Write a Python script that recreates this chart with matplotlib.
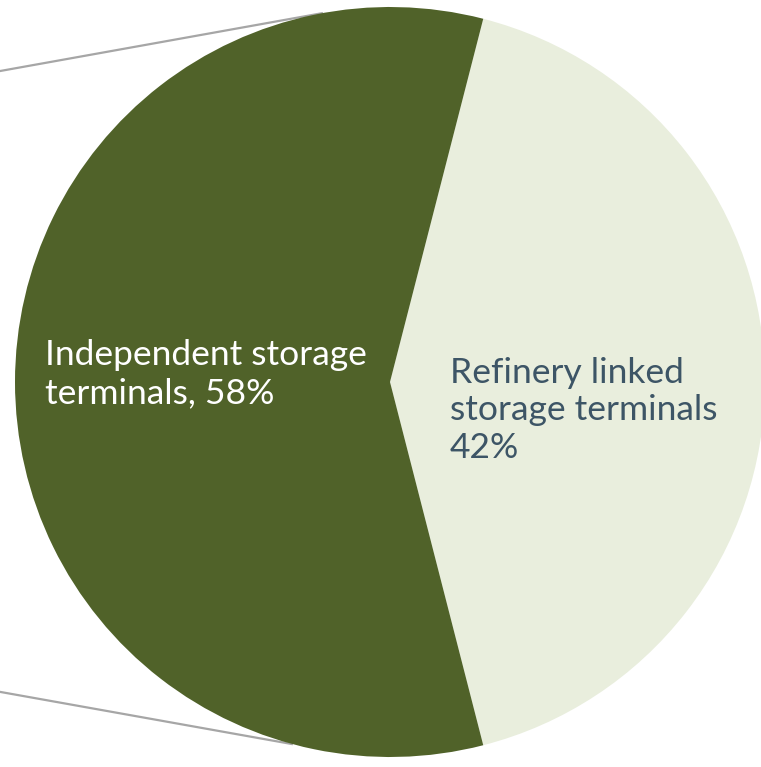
import numpy as np
import matplotlib
matplotlib.use("Agg")
import matplotlib.pyplot as plt

# Share of storage capacity by terminal type
categories = ["Refinery linked\nstorage terminals\n42%", "Independent storage\nterminals, 58%"]
shares = [42, 58]

colors = ["#e9eedd", "#506229"]
text_colors = ["#3d5566", "#ffffff"]

W, H = 761, 767
fig = plt.figure(figsize=(W / 100, H / 100), dpi=100)
ax = fig.add_axes([0, 0, 1, 1])

cx, cy, r = 390, 385, 375
start = -shares[0] / 100 * 180  # light wedge centred on the right-hand side

wedges, _ = ax.pie(shares, colors=colors, startangle=start, counterclock=True,
                   center=(cx, cy), radius=r, frame=True,
                   wedgeprops=dict(linewidth=0))

# connector lines leading off to the left
for ang, slope in [(100.3, 58 / 323), (-105.0, -52 / 291)]:
    a = np.deg2rad(ang)
    x0, y0 = cx + r * np.cos(a), cy + r * np.sin(a)
    x1 = -20
    y1 = y0 + slope * (x1 - x0)
    ax.plot([x1, x0], [y1, y0], color="#a6a6a6", lw=1.6, zorder=0,
            solid_capstyle="butt")

font = "Lato"
# baseline of the last line of each label
ax.text(45, 767 - 403, categories[1], color=text_colors[1], fontsize=25.5,
        family=font, ha="left", va="baseline", linespacing=1.22)
ax.text(450, 767 - 458, categories[0], color=text_colors[0], fontsize=25.5,
        family=font, ha="left", va="baseline", linespacing=1.22)

ax.set_xlim(0, W)
ax.set_ylim(0, H)
ax.set_aspect("equal")
ax.axis("off")

fig.savefig("out.png", dpi=100)
